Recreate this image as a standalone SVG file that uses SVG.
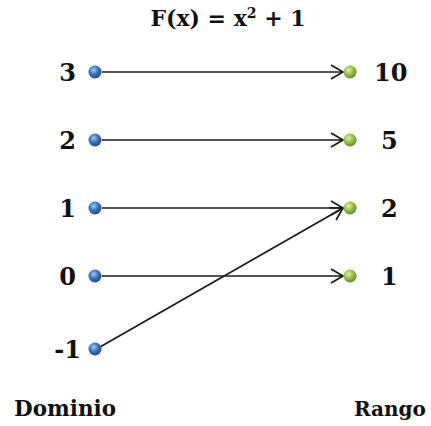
<svg xmlns="http://www.w3.org/2000/svg" width="431" height="426" viewBox="0 0 431 426">
<style>
.t{font-family:"DejaVu Serif","Liberation Serif",serif;font-weight:bold;fill:#111}
.n{font-size:24px}
.c{stroke:#1a1a1a;stroke-width:1.7;fill:none}
</style>
<defs>
<radialGradient id="gb" cx="0.4" cy="0.35" r="0.65">
<stop offset="0" stop-color="#a8ccf5"/>
<stop offset="0.5" stop-color="#3e74c0"/>
<stop offset="1" stop-color="#1f4d8f"/>
</radialGradient>
<radialGradient id="gg" cx="0.4" cy="0.35" r="0.65">
<stop offset="0" stop-color="#e4f3a8"/>
<stop offset="0.5" stop-color="#9cc24a"/>
<stop offset="1" stop-color="#5f8a25"/>
</radialGradient>
<marker id="ah" markerWidth="16" markerHeight="16" viewBox="0 0 16 16" refX="13" refY="8" orient="auto" markerUnits="userSpaceOnUse">
<path d="M1,1 L13,8 L1,15" fill="none" stroke="#1a1a1a" stroke-width="1.7"/>
</marker>
</defs>
<rect width="431" height="426" fill="#fff"/>
<text class="t" x="228" y="26" font-size="22" text-anchor="middle">F(x) = x<tspan font-size="14" dy="-8">2</tspan><tspan dy="8"> + 1</tspan></text>
<g id="connectors">
<line class="c" x1="102" y1="72" x2="343" y2="72" marker-end="url(#ah)"/>
<line class="c" x1="102" y1="140" x2="343" y2="140" marker-end="url(#ah)"/>
<line class="c" x1="102" y1="208" x2="343" y2="208" marker-end="url(#ah)"/>
<line class="c" x1="102" y1="276" x2="343" y2="276" marker-end="url(#ah)"/>
<line class="c" x1="100" y1="347" x2="343" y2="208" marker-end="url(#ah)"/>
</g>
<g id="d3"><circle cx="95" cy="72" r="6.5" fill="url(#gb)"/><text class="t n" x="76" y="81" text-anchor="end">3</text></g>
<g id="d2"><circle cx="95" cy="140" r="6.5" fill="url(#gb)"/><text class="t n" x="76" y="149" text-anchor="end">2</text></g>
<g id="d1"><circle cx="95" cy="208" r="6.5" fill="url(#gb)"/><text class="t n" x="76" y="217" text-anchor="end">1</text></g>
<g id="d0"><circle cx="95" cy="276" r="6.5" fill="url(#gb)"/><text class="t n" x="76" y="285" text-anchor="end">0</text></g>
<g id="dm1"><circle cx="95" cy="349" r="6.5" fill="url(#gb)"/><text class="t n" x="81" y="358" text-anchor="end">-1</text></g>
<g id="r10"><circle cx="350" cy="72" r="6.5" fill="url(#gg)"/><text class="t n" x="374" y="81">10</text></g>
<g id="r5"><circle cx="350" cy="140" r="6.5" fill="url(#gg)"/><text class="t n" x="381" y="149">5</text></g>
<g id="r2"><circle cx="350" cy="208" r="6.5" fill="url(#gg)"/><text class="t n" x="381" y="217">2</text></g>
<g id="r1"><circle cx="350" cy="276" r="6.5" fill="url(#gg)"/><text class="t n" x="381" y="285">1</text></g>
<text class="t" x="14" y="416" font-size="21.5">Dominio</text>
<text class="t" x="354" y="416" font-size="20">Rango</text>
</svg>
